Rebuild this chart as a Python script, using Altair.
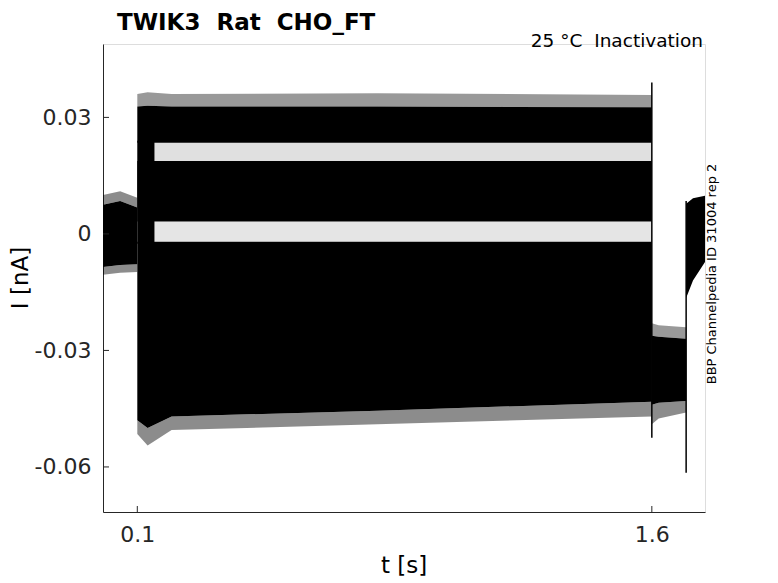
import altair as alt
import pandas as pd

# ---- data (current envelopes of the overlaid sweeps) ----
# baseline before the step (all sweeps near 0)
pre_t = [0.0, 0.05, 0.1]
pre_hi = [0.0075, 0.0085, 0.0068]
pre_lo = [-0.0085, -0.0080, -0.0078]

# during the test step (0.1 - 1.6 s): three groups of sweeps separated by white gaps
step_t = [0.1, 0.13, 0.2, 0.8, 1.6]
top_hi = [0.0328, 0.0330, 0.0328, 0.0328, 0.0326]
top_lo = [0.0235, 0.0235, 0.0235, 0.0235, 0.0235]
mid_hi = [0.0188, 0.0188, 0.0188, 0.0188, 0.0188]
mid_lo = [0.0032, 0.0032, 0.0032, 0.0032, 0.0032]
low_hi = [-0.0020, -0.0020, -0.0020, -0.0020, -0.0020]
low_lo = [-0.0480, -0.0500, -0.0470, -0.0455, -0.0432]

# sparse noise peaks at the outer edges of the step
top_peak = [0.0360, 0.0365, 0.0360, 0.0362, 0.0358]
low_peak = [-0.0515, -0.0545, -0.0505, -0.0490, -0.0470]

# onset region where the gaps are still filled
onset_t = [0.1, 0.15]
onset_hi = [0.0240, 0.0240]
onset_lo = [-0.0025, -0.0025]

# after the step (1.6 - 1.7 s)
post_t = [1.6, 1.62, 1.7]
post_hi = [-0.0262, -0.0265, -0.0270]
post_lo = [-0.0440, -0.0435, -0.0430]
post_peak_hi = [-0.0230, -0.0235, -0.0240]
post_peak_lo = [-0.0490, -0.0475, -0.0460]

# return to holding (1.7 s onwards)
tail_t = [1.7, 1.72, 1.755]
tail_hi = [0.0078, 0.0092, 0.0098]
tail_lo = [-0.0165, -0.0120, -0.0072]

# capacitive spikes
spike_t = [1.6, 1.7]
spike_lo = [-0.0525, -0.0615]
spike_hi = [0.0390, 0.0085]

x_ticks = [0.1, 1.6]
x_labels = ["0.1", "1.6"]
y_ticks = [-0.06, -0.03, 0.0, 0.03]
y_labels = ["-0.06", "-0.03", "0", "0.03"]

x_domain = [0.0, 1.755]
y_domain = [-0.0716, 0.0489]

# ---- build tables (dens = how densely the traces cover the band) ----
rows = []
def add(name, ts, los, his, dens=1.0):
    for t, lo, hi in zip(ts, los, his):
        rows.append({"band": name, "t": t, "lo": lo, "hi": hi, "dens": dens})

add("pre", pre_t, pre_lo, pre_hi)
add("pre_peak_hi", pre_t, pre_hi, [v + 0.0025 for v in pre_hi], 0.45)
add("pre_peak_lo", pre_t, [v - 0.0020 for v in pre_lo], pre_lo, 0.45)
add("top", step_t, top_lo, top_hi)
add("top_peak", step_t, top_hi, top_peak, 0.4)
add("gap1", step_t, mid_hi, top_lo, 0.12)
add("mid", step_t, mid_lo, mid_hi)
add("gap2", step_t, low_hi, mid_lo, 0.1)
add("low", step_t, low_lo, low_hi)
add("low_peak", step_t, low_peak, low_lo, 0.45)
add("onset", onset_t, onset_lo, onset_hi)
add("post", post_t, post_lo, post_hi)
add("post_peak_hi", post_t, post_hi, post_peak_hi, 0.4)
add("post_peak_lo", post_t, post_peak_lo, post_lo, 0.45)
add("tail", tail_t, tail_lo, tail_hi)
bands = pd.DataFrame(rows)

spikes = pd.DataFrame({"t": spike_t, "lo": spike_lo, "hi": spike_hi})

W, H = 602, 468
FONT = "DejaVu Sans"
AX = "#262626"
SP = "\u00a0"

xs = alt.Scale(domain=x_domain, nice=False, zero=False)
ys = alt.Scale(domain=y_domain, nice=False, zero=False)

def lab_expr(ticks, labels):
    parts = []
    for v, l in zip(ticks, labels):
        parts.append(f"abs(datum.value - ({v})) < 1e-9 ? '{l}'")
    return " : ".join(parts) + " : ''"

x_axis = alt.Axis(values=x_ticks, labelExpr=lab_expr(x_ticks, x_labels), title=None,
                  ticks=False, grid=False, domainColor=AX, labelColor=AX,
                  labelFont=FONT, labelFontSize=22, labelPadding=12)
y_axis = alt.Axis(values=y_ticks, labelExpr=lab_expr(y_ticks, y_labels), title=None,
                  ticks=False, grid=False, domainColor=AX, labelColor=AX,
                  labelFont=FONT, labelFontSize=22, labelPadding=12)

area = alt.Chart(bands).mark_area(color="black", strokeWidth=0).encode(
    x=alt.X("t:Q", scale=xs, axis=x_axis),
    y=alt.Y("lo:Q", scale=ys, axis=y_axis),
    y2="hi:Q",
    detail="band:N",
    opacity=alt.Opacity("dens:Q", scale=None),
)

spike = alt.Chart(spikes).mark_rule(color="black", strokeWidth=1.5).encode(
    x=alt.X("t:Q", scale=xs), y=alt.Y("lo:Q", scale=ys), y2="hi:Q"
)

# inward tick marks
xt = alt.Chart(pd.DataFrame({"v": x_ticks})).mark_rule(color=AX, strokeWidth=1).encode(
    x=alt.X("v:Q", scale=xs), y=alt.value(H), y2=alt.value(H - 6)
)
yt = alt.Chart(pd.DataFrame({"v": y_ticks})).mark_rule(color=AX, strokeWidth=1).encode(
    y=alt.Y("v:Q", scale=ys), x=alt.value(0), x2=alt.value(6)
)

def txt(s, x, y, size, weight="normal", align="left", baseline="alphabetic", angle=0):
    return alt.Chart(pd.DataFrame({"s": [s]})).mark_text(
        font=FONT, fontSize=size, fontWeight=weight, align=align, baseline=baseline,
        angle=angle, color="black"
    ).encode(text="s:N", x=alt.value(x), y=alt.value(y))

title = txt(f"TWIK3{SP} Rat{SP} CHO_FT", 14, -14.5, 23, weight="bold")
sub = txt(f"25 °C{SP} Inactivation", 600, 3, 18.5, align="right")
side = txt("BBP Channelpedia ID 31004 rep 2", 609, 230, 13, align="center",
           baseline="middle", angle=270)
ytitle = txt("I [nA]", -82, 234, 23, align="center", baseline="middle", angle=270)
xtitle = txt("t [s]", 301, 522, 23, align="center", baseline="middle")

chart = alt.layer(area, spike, xt, yt, title, sub, side, ytitle, xtitle).properties(
    width=W, height=H,
    padding={"left": 95, "top": 36, "right": 65, "bottom": 71},
    autosize=alt.AutoSizeParams(type="none"),
).configure_view(stroke=None).configure(background="white")

chart.save("out.html", embed_options={"renderer": "svg", "actions": False})
